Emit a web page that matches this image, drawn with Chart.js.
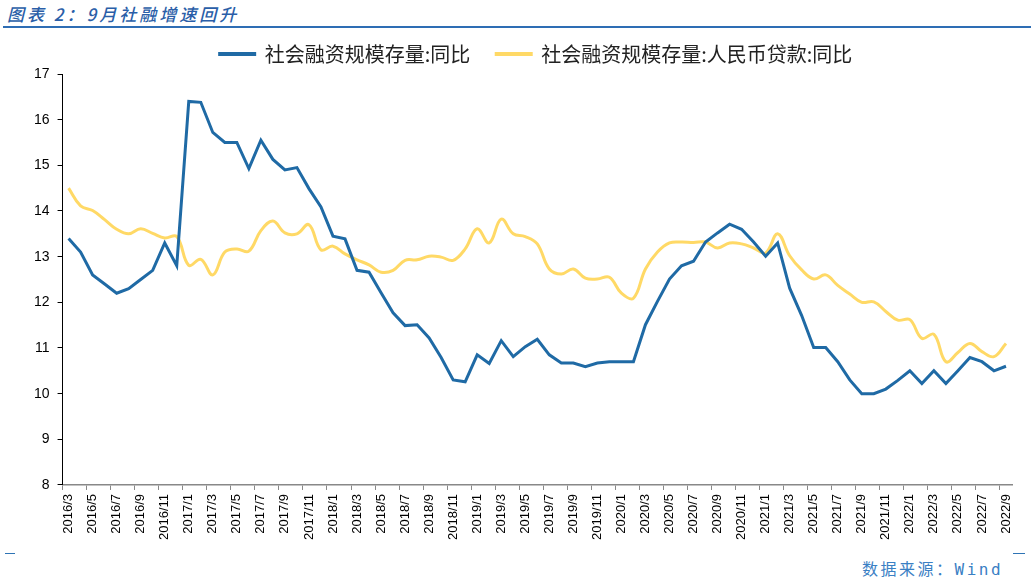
<!DOCTYPE html>
<html>
<head>
<meta charset="utf-8">
<script src="https://cdn.jsdelivr.net/npm/chart.js@4"></script>
<style>
  body { margin: 0; background: #fff; width: 1031px; height: 583px; position: relative; overflow: hidden; }
  #title { position: absolute; left: 7px; top: 1px; font: italic 17px "Noto Sans CJK SC", sans-serif; color: #2a5ea8; letter-spacing: 3px; font-weight: 500; }
  #rule { position: absolute; left: 3px; right: 0; top: 26px; height: 2px; background: #2e6db4; }
  #wrap { position: absolute; left: 0; top: 18px; width: 1031px; height: 530px; }
  #source { position: absolute; left: 862px; top: 556px; font: 16px "DejaVu Sans Mono", "Noto Sans CJK SC", monospace; color: #3a80c4; letter-spacing: 2.5px; }
  .dash { position: absolute; top: 553px; height: 1px; background: #2e74b5; }
</style>
</head>
<body>
<div id="title">图表 2：9月社融增速回升</div>
<div id="rule"></div>
<div id="wrap"><canvas id="chart"></canvas></div>
<div class="dash" style="left:5px;width:10px"></div>
<div class="dash" style="left:1013px;width:12px"></div>
<div id="source">数据来源：Wind</div>
<script>
const months = [
  '2016/3','2016/4','2016/5','2016/6','2016/7','2016/8','2016/9','2016/10','2016/11','2016/12',
  '2017/1','2017/2','2017/3','2017/4','2017/5','2017/6','2017/7','2017/8','2017/9','2017/10','2017/11','2017/12',
  '2018/1','2018/2','2018/3','2018/4','2018/5','2018/6','2018/7','2018/8','2018/9','2018/10','2018/11','2018/12',
  '2019/1','2019/2','2019/3','2019/4','2019/5','2019/6','2019/7','2019/8','2019/9','2019/10','2019/11','2019/12',
  '2020/1','2020/2','2020/3','2020/4','2020/5','2020/6','2020/7','2020/8','2020/9','2020/10','2020/11','2020/12',
  '2021/1','2021/2','2021/3','2021/4','2021/5','2021/6','2021/7','2021/8','2021/9','2021/10','2021/11','2021/12',
  '2022/1','2022/2','2022/3','2022/4','2022/5','2022/6','2022/7','2022/8','2022/9'
];

// 社会融资规模存量:同比
const tsfYoy = [
  13.4, 13.1, 12.6, 12.4, 12.2, 12.3, 12.5, 12.7, 13.3, 12.8,
  16.4, 16.38, 15.72, 15.5, 15.5, 14.93, 15.55, 15.13, 14.9, 14.95, 14.49, 14.09,
  13.45, 13.39, 12.7, 12.66, 12.21, 11.77, 11.49, 11.51, 11.22, 10.79, 10.3, 10.26,
  10.85, 10.66, 11.16, 10.81, 11.03, 11.19, 10.85, 10.67, 10.67, 10.59, 10.67, 10.7,
  10.7, 10.7, 11.51, 12.02, 12.51, 12.8, 12.9, 13.32, 13.52, 13.71, 13.6, 13.32,
  13.01, 13.3, 12.31, 11.71, 11.01, 11.01, 10.7, 10.3, 10.0, 10.0, 10.1, 10.29,
  10.5, 10.22, 10.5, 10.22, 10.5, 10.79, 10.7, 10.5, 10.6
];

// 社会融资规模存量:人民币贷款:同比
const loanYoy = [
  14.5, 14.11, 14.01, 13.81, 13.6, 13.5, 13.61, 13.51, 13.41, 13.44,
  12.81, 12.94, 12.6, 13.1, 13.17, 13.12, 13.57, 13.78, 13.52, 13.5, 13.7, 13.15,
  13.23, 13.06, 12.93, 12.82, 12.66, 12.7, 12.92, 12.93, 13.01, 12.99, 12.92, 13.17,
  13.61, 13.3, 13.82, 13.5, 13.44, 13.28, 12.73, 12.62, 12.73, 12.53, 12.51, 12.55,
  12.2, 12.09, 12.73, 13.1, 13.3, 13.32, 13.31, 13.32, 13.19, 13.3, 13.28, 13.19,
  13.08, 13.5, 13.02, 12.71, 12.51, 12.6, 12.37, 12.18, 12.0, 12.01, 11.8, 11.61,
  11.62, 11.21, 11.3, 10.7, 10.9, 11.1, 10.92, 10.81, 11.1
];

const blue = '#1f6aa5';
const yellow = '#ffd966';

// legend sits a bit right of centre in the original
const nudgeLegend = {
  id: 'nudgeLegend',
  afterLayout(chart) {
    chart.legend.left += 17;
    chart.legend.right += 17;
  }
};

new Chart(document.getElementById('chart'), {
  type: 'line',
  data: {
    labels: months,
    datasets: [
      { label: '社会融资规模存量:同比', data: tsfYoy, borderColor: blue, backgroundColor: blue,
        borderWidth: 3, pointRadius: 0, tension: 0 },
      { label: '社会融资规模存量:人民币贷款:同比', data: loanYoy, borderColor: yellow, backgroundColor: yellow,
        borderWidth: 3, pointRadius: 0, tension: 0.4 }
    ]
  },
  plugins: [nudgeLegend],
  options: {
    responsive: true,
    maintainAspectRatio: false,
    animation: false,
    layout: { padding: { left: 26, right: 19, top: 0, bottom: 4 } },
    plugins: {
      legend: {
        position: 'top',
        labels: {
          boxWidth: 35, boxHeight: 1, padding: 26,
          color: '#222',
          font: { family: '"Noto Sans CJK SC", sans-serif', size: 20 }
        }
      },
      tooltip: { enabled: false }
    },
    scales: {
      x: {
        offset: true,
        border: { color: '#888', width: 1.5 },
        grid: {
          offset: true, drawOnChartArea: false, tickLength: 5,
          color: ctx => ctx.index % 2 === 0 ? '#888' : 'rgba(0,0,0,0)'
        },
        ticks: {
          autoSkip: false, maxRotation: 90, minRotation: 90, padding: 4,
          color: '#000',
          font: { family: '"Liberation Sans", Arial, sans-serif', size: 13 },
          callback: (v, i) => i % 2 === 0 ? months[i] : ''
        }
      },
      y: {
        min: 8, max: 17,
        border: { color: '#000', width: 1 },
        grid: { drawOnChartArea: false, tickLength: 5, color: '#000' },
        ticks: {
          stepSize: 1, padding: 8, color: '#000',
          font: { family: '"Liberation Sans", Arial, sans-serif', size: 14 }
        }
      }
    }
  }
});
</script>
</body>
</html>
